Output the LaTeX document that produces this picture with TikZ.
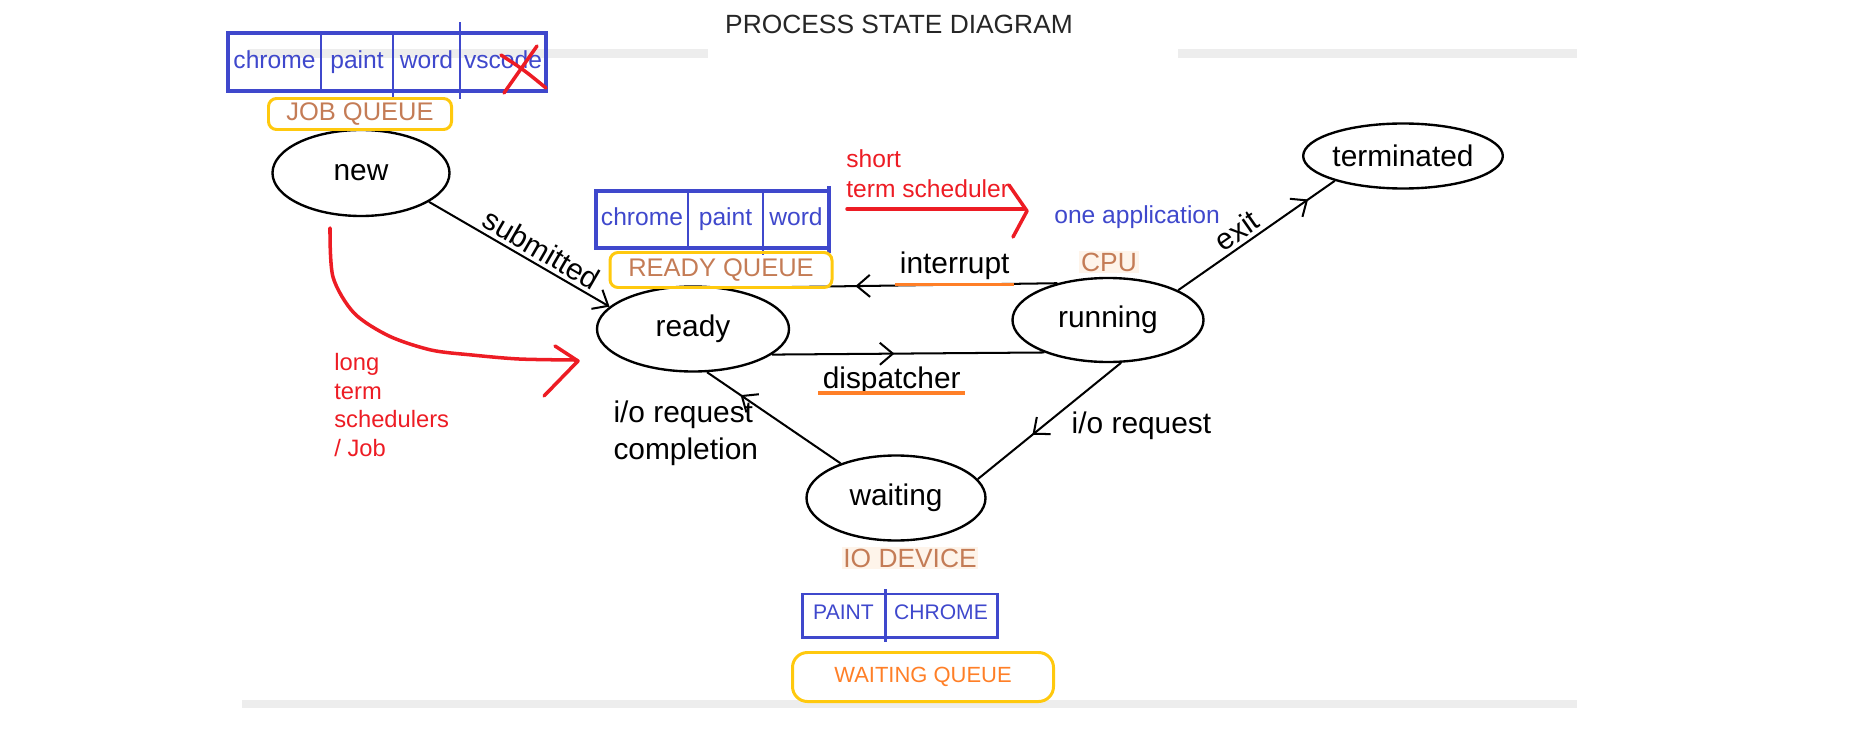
\documentclass[tikz,border=0pt]{standalone}
\usepackage{fontspec}
\setmainfont{Liberation Sans}
\usepackage{tikz}
\usepackage{xcolor}
\usetikzlibrary{shapes.geometric,arrows.meta,decorations.markings}

\definecolor{qblue}{RGB}{63,72,204}
\definecolor{pred}{RGB}{237,28,36}
\definecolor{qgold}{RGB}{255,201,14}
\definecolor{porange}{RGB}{255,127,39}
\definecolor{hwtan}{RGB}{196,124,86}
\definecolor{peach}{RGB}{254,244,234}

\tikzset{
  state/.style={ellipse, draw, line width=1.35pt, inner sep=0pt, font=\fontsize{17}{20}\selectfont},
  lbl/.style={font=\fontsize{17}{20}\selectfont, inner sep=2pt},
  flow/.style={line width=1.15pt},
  barb/.style={-{Straight Barb[length=2.6mm,width=4.4mm]}},
  midarrow/.style={postaction={decorate},decoration={markings,mark=at position #1 with {\arrow{Straight Barb[length=2.6mm,width=4.4mm]}}}},
  cell/.style={inner sep=0pt, outer sep=0pt, text=qblue, text height=10pt, text depth=3pt, font=\fontsize{14}{16}\selectfont},
  qbox/.style={draw=qblue, line width=2.7pt},
  qdiv/.style={draw=qblue, line width=1.35pt},
  qlabel/.style={draw=qgold, line width=1.7pt, rounded corners=1.6mm, inner sep=0pt},
  hw/.style={text=hwtan, fill=peach, font=\fontsize{15}{18}\selectfont, inner sep=1pt},
  uline/.style={draw=porange, line width=2pt},
  redpen/.style={pred, line width=2pt, line cap=round, line join=round},
  note/.style={font=\fontsize{14}{17}\selectfont, inner sep=0pt, anchor=west, align=left},
}

\begin{document}
\begin{tikzpicture}[x=0.2mm,y=-0.2mm]
    \useasboundingbox (0,0) rectangle (1850,743);

    % gray rules left over from the screenshot
    \fill[black!7] (248,49) rectangle (708,58);
    \fill[black!7] (1178,49) rectangle (1577,58);
    \fill[black!7] (242,700) rectangle (1577,708);

    \node[font=\fontsize{15}{18}\selectfont, text=black!85] (title) at (899,24) {PROCESS STATE DIAGRAM};

    % states
    \node[state, minimum width=35.4mm, minimum height=17.2mm] (new) at (361,173) {new};
    \node[state, minimum width=38.4mm, minimum height=17mm] (ready) at (693,329) {ready};
    \node[state, minimum width=38.2mm, minimum height=16.8mm] (running) at (1108,320) {running};
    \node[state, minimum width=35.8mm, minimum height=17mm] (waiting) at (896,498) {waiting};
    \node[state, minimum width=38.8mm, minimum height=13mm] (terminated) at (1403,156) {terminated};

    % transitions
    \draw[flow, barb] (new.-23) -- (ready.165) node[lbl, sloped, above, pos=0.58] {submitted};
    \draw[flow, midarrow=0.61] (running.144) -- (ready.51) node[lbl, above, pos=0.31] (intr) {interrupt};
    \draw[flow, midarrow=0.45] (ready.-18) -- (running.-153) node[lbl, below=4.7pt, pos=0.44] (disp) {dispatcher};
    \draw[flow, midarrow=0.62] (running.-73) -- (waiting.13) node[lbl, right=4.7mm, pos=0.54] {i/o request};
    \draw[flow, midarrow=0.75] (waiting.148) -- (ready.-72)
        node[lbl, left=6.8mm, pos=0.33, align=left, font=\fontsize{17}{21}\selectfont] {i/o request\\completion};
    \draw[flow, midarrow=0.83] (running.23) -- (terminated.-160) node[lbl, sloped, above, pos=0.43] {exit};
    \draw[uline] (intr.south west) -- (intr.south east);
    \draw[uline] ([yshift=3.4pt]disp.south west) -- ([yshift=3.4pt]disp.south east);

    \node[hw] (cpu) at (1109,262) {CPU};
    \node[hw] (iodev) at (910,558) {IO DEVICE};

    % job queue
    \foreach \n/\l/\r/\t in {jqa/228/321/chrome, jqb/321/393/paint, jqc/393/460/word, jqd/460/546/vscode}
        \node[cell, minimum width={(\r-\l)*0.2mm}, minimum height=11.6mm] (\n) at ({(\l+\r)/2},62) {\t};
    \draw[qbox] (jqa.north west) rectangle (jqd.south east);
    \foreach \n in {jqb,jqc,jqd}
        \draw[qdiv] (\n.north west) -- (\n.south west);
    \draw[qdiv] (jqd.north west) -- ++(0,-11);
    \draw[qdiv] (jqd.south west) -- ++(0,8);
    \draw[qdiv] (jqc.south west) -- ++(0,9);
    \draw[redpen] (501,55) .. controls (524,70) .. (546,88);
    \draw[redpen] (537,46) -- (504,93);
    \node[qlabel, text=hwtan, font=\fontsize{14.5}{17}\selectfont, minimum width=36.6mm, minimum height=6.2mm] (jobq) at (360,114) {JOB QUEUE};

    % ready queue
    \foreach \n/\l/\r/\t in {rqa/596/688/chrome, rqb/688/763/paint, rqc/763/829/word}
        \node[cell, minimum width={(\r-\l)*0.2mm}, minimum height=11.4mm] (\n) at ({(\l+\r)/2},219.5) {\t};
    \draw[qbox] (rqa.north west) rectangle (rqc.south east);
    \foreach \n in {rqb,rqc}
        \draw[qdiv] (\n.north west) -- (\n.south west);
    \draw[qdiv] (rqc.south west) -- ++(0,7);
    \draw[qbox] (rqc.north east) -- ++(0,-5);
    \draw[qbox] (rqc.south east) -- ++(0,5);
    \node[qlabel, text=hwtan, font=\fontsize{14.5}{17}\selectfont, minimum width=44.4mm, minimum height=7mm] (readyq) at (721,270) {READY QUEUE};

    % waiting queue
    \foreach \n/\l/\r/\t in {wqa/802/885/PAINT, wqb/885/997/CHROME}
        \node[cell, font=\fontsize{12}{14}\selectfont, text height=8.6pt, text depth=4.5pt, minimum width={(\r-\l)*0.2mm}, minimum height=8.6mm] (\n) at ({(\l+\r)/2},615.5) {\t};
    \draw[qbox, line width=1.7pt] (wqa.north west) rectangle (wqb.south east);
    \draw[qdiv, line width=1.7pt] ([yshift=1mm]wqb.north west) -- ([yshift=-1mm]wqb.south west);
    \node[qlabel, rounded corners=3mm, text=porange, font=\fontsize{12.5}{15}\selectfont, minimum width=52.2mm, minimum height=9.8mm] (waitq) at (923,677) {WAITING QUEUE};

    % schedulers
    \node[note, text=pred] (stsched) at (846,174) {short\\term scheduler};
    \draw[redpen] (847,209) -- (1024,209);
    \draw[redpen] (1009,185) -- (1027,211) -- (1013,237);
    \node[note, text=qblue] (oneapp) at (1054,217) {one application};

    \node[note, text=pred, font=\fontsize{13.5}{16.3}\selectfont] (ltsched) at (334,405) {long\\term\\schedulers\\ / Job};
    \draw[redpen] plot[smooth] coordinates {
        (330,228) (333,277) (354,313) (389,336) (431,350) (472,355) (519,359) (575,360)
    };
    \draw[redpen] (555,346) -- (578,361) -- (544,396);
\end{tikzpicture}
\end{document}
